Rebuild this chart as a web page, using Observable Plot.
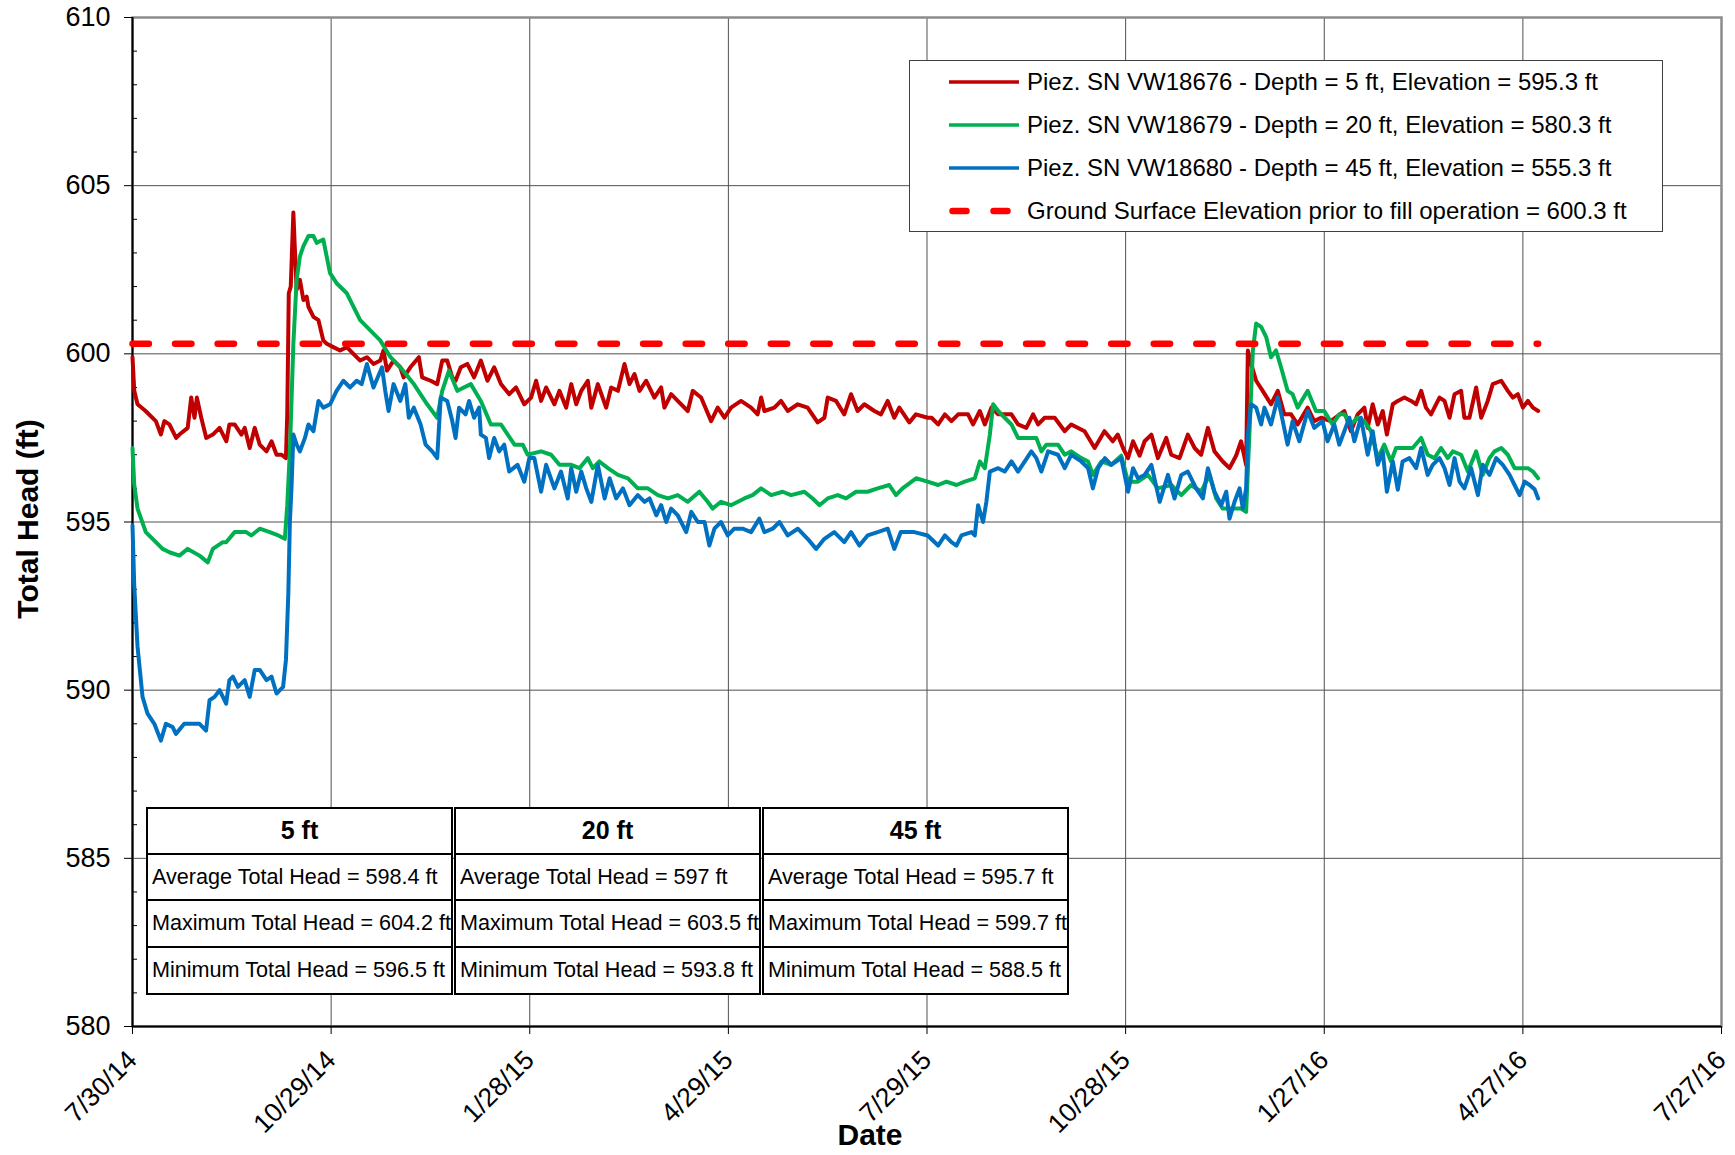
<!DOCTYPE html>
<html>
<head>
<meta charset="utf-8">
<script src="https://cdn.jsdelivr.net/npm/d3@7"></script>
<script src="https://cdn.jsdelivr.net/npm/@observablehq/plot@0.6"></script>
<style>
html,body{margin:0;padding:0;background:#fff;}
#wrap{position:relative;width:1735px;height:1155px;font-family:"Liberation Sans",Arial,sans-serif;color:#000;}
#chart{position:absolute;left:0;top:0;}
.legend{position:absolute;left:909px;top:60px;width:754px;height:172px;box-sizing:border-box;border:1px solid #404040;background:#fff;}
.lrow{position:absolute;left:0;height:30px;width:100%;font-size:24px;line-height:30px;white-space:nowrap;}
.lrow svg{position:absolute;left:39px;top:10px;}
.lrow span{position:absolute;left:117px;top:0;}
.tbox{position:absolute;top:807px;width:307px;height:188px;box-sizing:border-box;border:2.5px solid #000;background:#fff;}
.tbox div{box-sizing:border-box;white-space:nowrap;overflow:visible;}
.thead{height:45.5px;border-bottom:2.5px solid #000;font-weight:bold;font-size:25px;text-align:center;line-height:43px;}
.trow{height:46.5px;border-bottom:2.5px solid #000;font-size:21.6px;line-height:44px;padding-left:4px;}
.trow.last{border-bottom:none;height:44px;}
</style>
</head>
<body>
<div id="wrap"></div>
<script>
// ---- data ----
const startDate = "2014-07-30";           // day 0 of the day offsets below
const xTickDates = ["2014-07-30","2014-10-29","2015-01-28","2015-04-29","2015-07-29","2015-10-28","2016-01-27","2016-04-27","2016-07-27"];
const yMajorTicks = [580,585,590,595,600,605,610];
const yMinorTicks = [581,582,583,584,586,587,588,589,591,592,593,594,596,597,598,599,601,602,603,604,606,607,608,609];

const seriesNames = [
  "Piez. SN VW18676 - Depth = 5 ft, Elevation = 595.3 ft",
  "Piez. SN VW18679 - Depth = 20 ft, Elevation = 580.3 ft",
  "Piez. SN VW18680 - Depth = 45 ft, Elevation = 555.3 ft",
  "Ground Surface Elevation prior to fill operation = 600.3 ft"
];

// 5 ft piezometer (red)
const redDays = [0,0.8,2.3,6,10.7,13,14.6,16.9,20,21.5,25.3,26.9,28.4,29.5,31.5,33.8,36.8,39.9,43,44.4,46.8,49.9,51.4,53.7,56,58.3,61.4,63.7,66,68.3,70.3,70.9,71.6,72.5,73.7,74.4,75.2,76.7,78.3,79.8,80.6,82.9,85.2,87.4,89,92,95.1,98.2,101.2,104.3,107.4,110.4,113.5,115,116.6,119.6,122.7,124.2,127.3,131.2,132.7,136.6,139.6,141.9,144.2,146.5,148,150.4,153.4,156.5,159.6,162.6,165.7,168.8,172.6,175.7,179.5,182.6,184.9,187.2,189.5,193.3,195.6,198.7,201,203.3,205.6,208.6,210.2,213.2,217,219.3,222.4,225.4,227.7,230,232.3,235.3,239.1,242.2,243.7,246.8,249.8,254.4,256.7,260.5,265.1,268.1,271.2,274.2,278.8,283.4,286.4,288,289.5,294.1,297.1,300.2,304.8,309.3,313.9,317,318.5,322.3,326.1,329.2,332.2,335.3,339.9,342.9,346,349,351.3,355.9,358.9,364.3,366.1,369.1,372.2,375.2,378.3,382.8,385.1,388.2,390.5,393.5,396.6,402.7,405.7,409.5,412.6,414.9,417.9,422.5,427.1,430.1,436.2,440.8,445.3,449.1,451.4,453.8,456.1,458.4,461.4,463.7,466.8,469.8,473.6,475.9,479.7,483.5,486.6,489.6,492.7,495.7,499.5,502.6,505.6,507.9,510.2,511,512.5,514.8,517.8,521.6,524.7,527.7,530.8,533.8,538.4,541.4,544.5,549,555.2,558.2,561.3,564.4,565.9,568.2,570.5,572.8,574.7,577.4,579.7,582.7,585.8,588.1,590.4,592.6,594.9,598.8,601.1,603.4,605.7,608.7,610.2,612.5,615.6,617.9,620.9,623.2,627.1,630.1,632.4,634.7,637,639.3,641.6,644];
const redHead = [599.9,598.9,598.5,598.3,598.0,597.6,598.0,597.9,597.5,597.6,597.8,598.7,598.1,598.7,598.1,597.5,597.6,597.8,597.4,597.9,597.9,597.6,597.8,597.2,597.8,597.3,597.1,597.4,597.0,597.0,596.9,598.2,601.8,602.0,604.2,603.1,601.9,602.2,601.6,601.7,601.4,601.1,601.0,600.4,600.3,600.2,600.1,600.2,600.0,599.8,599.9,599.7,599.8,600.1,599.5,599.8,599.6,599.3,599.6,599.9,599.3,599.2,599.1,599.8,599.8,599.3,599.2,599.6,599.7,599.3,599.8,599.2,599.6,599.1,598.8,599.0,598.5,598.7,599.2,598.6,599.0,598.5,598.9,598.4,599.1,598.5,598.9,599.2,598.4,599.1,598.4,599.0,598.9,599.7,599.1,599.4,598.9,599.2,598.7,599.0,598.4,598.8,598.6,598.3,598.9,598.7,598.0,598.4,598.1,598.4,598.6,598.4,598.2,598.7,598.3,598.4,598.6,598.3,598.5,598.4,597.96,598.1,598.7,598.6,598.2,598.8,598.3,598.5,598.3,598.2,598.6,598.1,598.4,597.96,598.2,598.1,598.1,597.9,598.2,598.0,598.2,598.2,597.9,598.3,597.9,598.4,598.2,598.2,597.9,597.8,598.2,597.9,598.1,598.1,597.7,597.9,597.7,597.2,597.7,597.4,597.6,597.2,596.9,597.4,596.97,597.4,597.6,596.9,597.5,597.0,596.9,597.6,597.2,597.0,597.8,597.1,596.8,596.6,596.97,597.4,596.7,600.1,599.7,599.2,598.9,598.5,598.9,598.2,598.2,597.9,598.4,598.0,598.1,598.0,598.3,597.7,598.2,598.4,597.8,598.5,597.9,598.3,597.6,598.5,598.6,598.7,598.6,598.5,598.9,598.4,598.2,598.7,598.6,598.1,598.8,598.9,598.1,598.1,599.0,598.1,598.6,599.1,599.2,598.9,598.7,598.8,598.4,598.6,598.4,598.3];

// 20 ft piezometer (green)
const greenDays = [0,0.8,2.3,6.1,10.7,13.8,16.9,21.5,25.3,30.7,34.5,36.8,41.4,42.9,46.8,52.1,54.4,58.3,62.9,66.8,69.8,70.9,72.1,73.7,75.2,76.7,78.3,80.6,82.9,84.4,87.4,90.5,93.5,98.2,104.3,110.4,113.5,118.2,122.7,128.9,135,139.6,141.9,145,148.8,155,159.6,164.2,168.8,175,178.8,181,187.2,191.8,195.6,201,204.8,208.6,210.9,213.9,217.8,222.4,227,231.5,236.1,240.7,245.3,249.8,254.4,259.7,263.5,265.8,269.6,274.2,280.3,284.1,288,292.6,297.9,301.7,307.8,311.6,314.7,318.5,323.1,326.9,331.5,336.8,341.4,346.7,349.8,352.8,359,364.3,369.1,372.9,377.5,381.3,385.9,388.2,390.5,392.8,394.3,396.6,399.6,402.7,405.7,410.3,414.1,416.4,418.7,424,427.1,430.1,434.7,437.8,440,443.9,448.4,453,456.1,460.7,465.2,469.8,475.9,480.5,485,489.6,493.4,496.5,499.5,503.3,507.9,510.2,511.7,513.3,514.8,517.1,519.4,521.6,523.9,526.2,529.2,531.5,533.8,538.4,542.2,546,549.8,552.9,555.2,558.2,561.3,564.4,567.4,570.5,573.5,576.6,578.9,582.7,586.5,590.4,593.4,596.5,599.5,602.6,604.9,608.7,611.8,615.6,618.6,621.7,624,627.1,630.1,633.2,636.2,639.3,641.6,644];
const greenHead = [597.2,596.1,595.4,594.7,594.4,594.2,594.1,594.0,594.2,594.0,593.8,594.2,594.4,594.4,594.7,594.7,594.6,594.8,594.7,594.6,594.5,595.5,597.1,600.3,602.2,602.9,603.2,603.5,603.5,603.3,603.4,602.4,602.1,601.8,601.0,600.6,600.4,599.9,599.6,599.1,598.5,598.1,598.9,599.5,598.9,599.1,598.6,597.9,597.9,597.3,597.3,597.0,597.1,597.0,596.7,596.7,596.6,596.9,596.6,596.8,596.6,596.4,596.3,596.0,596.0,595.8,595.7,595.8,595.6,595.9,595.6,595.4,595.6,595.5,595.7,595.8,596.0,595.8,595.9,595.8,595.9,595.7,595.5,595.7,595.8,595.7,595.9,595.9,596.0,596.1,595.8,596.0,596.3,596.2,596.1,596.2,596.1,596.2,596.3,596.8,596.6,597.6,598.5,598.3,598.1,597.9,597.5,597.5,597.5,597.1,597.3,597.3,597.0,597.1,596.9,596.8,596.4,596.8,596.7,596.97,596.2,596.2,596.4,596.0,596.1,595.8,596.1,595.9,596.4,595.7,595.4,595.4,595.4,595.3,597.6,600.1,600.9,600.8,600.5,599.9,600.1,599.6,598.9,598.8,598.4,598.9,598.3,598.3,597.9,598.2,598.2,597.9,598.1,598.0,597.7,596.9,597.3,596.8,597.2,597.2,597.2,597.5,597.0,596.9,597.2,596.9,597.1,597.0,596.5,597.1,596.4,596.9,597.1,597.2,597.0,596.6,596.6,596.6,596.5,596.3];

// 45 ft piezometer (blue)
const blueDays = [0,0.8,2.3,4.6,6.9,10,13,15.3,18.4,19.9,23.7,27.5,30.7,33.7,35.3,37.6,39.9,42.9,44.4,46,48.3,51.4,53.7,56,58.3,61.4,63.7,66,69,70.3,71.4,72.1,72.9,73.7,75.2,76.7,79,80.6,82.9,85.2,87.4,90.5,93.5,96.6,99.7,102.7,105,107.4,110.4,114.3,115.8,117.3,119.6,122.7,125,126.6,128.9,132,134.3,137.3,139.6,141.2,144.2,146.5,148,149.6,152.6,154.2,156.5,158.8,159.6,161.9,163.4,165.7,168,170.3,172.6,176.4,179.5,181.8,184.1,187.2,189.5,193.3,196.3,199.4,201,203.3,205.6,207.9,210.2,213.2,216.3,218.6,221.6,224.7,227.7,231.5,234.6,236.9,240,242.2,244.5,246.8,249.8,253.7,256,259,262.1,264.3,266.6,269.6,272.7,275.7,279.5,283.4,287.2,289.5,293.3,296.4,300.2,304.8,309.3,313.2,317,321.5,326.1,329.2,333,336.8,341.4,346,349,352,358.2,364.3,369.1,372.2,375.2,377.5,379.8,384.4,385.9,387.4,389.7,391.2,392.8,396.6,399.6,402.7,405.7,408.8,411.8,414.1,416.4,419.5,424,427.1,430.1,434.7,437.8,440,442.4,445.5,448.4,453,456.1,458.4,460.7,463.7,466.8,470.6,474.4,477.4,480.5,483.5,487.3,490.4,492.7,495.7,498.8,501.1,502.6,504.9,507.2,508.7,510.2,511,512.5,514.8,517.1,518.6,521.6,524.7,527,529.2,531.5,534.6,538.4,541.4,545.2,547.5,550.6,552.9,557.5,559.8,562.8,565.9,568.2,570.5,572.8,574.7,577.4,579.7,581.9,585,588.1,590.4,593.4,595.7,598.8,601.1,603.4,605.7,608,610.2,613.3,616.4,618.6,621.7,624.8,627.8,630.9,633.2,635.5,637.8,640.1,642.4,644];
const blueHead = [594.9,593.1,591.3,589.8,589.3,589.0,588.5,589.0,588.9,588.7,589.0,589.0,589.0,588.8,589.7,589.8,590.0,589.6,590.3,590.4,590.1,590.3,589.8,590.6,590.6,590.3,590.4,589.9,590.1,590.9,592.9,595.0,596.1,597.6,597.3,597.1,597.5,597.9,597.7,598.6,598.4,598.5,598.9,599.2,599.0,599.2,599.1,599.7,599.0,599.6,598.9,598.3,599.1,598.6,599.1,598.1,598.4,597.9,597.3,597.1,596.9,598.7,598.6,598.0,597.5,598.4,598.2,598.6,598.1,598.4,597.6,597.5,596.9,597.5,597.1,597.3,596.5,596.7,596.2,596.9,596.9,595.9,596.7,596.0,596.5,595.7,596.6,595.9,596.5,596.0,595.6,596.7,595.7,596.3,595.7,596.0,595.5,595.8,595.6,595.7,595.2,595.5,595.0,595.4,595.2,594.7,595.3,595.0,595.0,594.3,594.8,595.0,594.6,594.8,594.8,594.7,595.1,594.7,594.8,595.0,594.6,594.8,594.5,594.2,594.5,594.7,594.4,594.7,594.3,594.6,594.7,594.8,594.2,594.7,594.7,594.6,594.3,594.6,594.4,594.3,594.6,594.7,594.6,595.5,595.0,595.6,596.5,596.6,596.5,596.8,596.5,596.8,597.1,596.9,596.5,597.1,597.0,596.6,597.0,596.8,596.6,596.0,596.6,596.9,596.7,596.9,595.9,596.6,596.3,596.4,596.7,595.6,596.4,595.7,596.4,596.5,596.0,595.7,596.6,595.9,595.5,595.9,595.1,595.6,596.0,595.4,596.0,597.6,598.5,598.4,597.9,598.4,597.9,598.7,598.0,597.3,598.0,597.4,598.3,597.8,598.0,597.4,597.9,597.3,598.1,597.4,598.1,597.0,597.7,596.7,597.1,595.9,596.8,595.96,596.8,596.9,596.6,597.2,596.4,596.7,596.9,596.6,596.1,596.9,596.2,596.0,596.6,595.8,596.7,596.4,596.9,596.7,596.4,596.1,595.8,596.2,596.1,595.97,595.7];

// ground surface elevation reference line
const groundDays = [0, 644];
const groundHead = [600.3, 600.3];

// summary table
const tableHeaders = ["5 ft", "20 ft", "45 ft"];
const avgHead = [598.4, 597, 595.7];
const maxHead = [604.2, 603.5, 599.7];
const minHead = [596.5, 593.8, 588.5];

// ---- build ----
const t0 = new Date(startDate + "T00:00:00Z").getTime();
const toRows = (days, vals) => days.map((d, i) => ({date: new Date(t0 + d * 864e5), value: vals[i]}));
const xTicks = xTickDates.map(s => new Date(s + "T00:00:00Z"));
const fmt = d3.utcFormat("%-m/%-d/%y");
const colors = ["#C00000", "#00B050", "#0070C0", "#FF0000"];
const font = "'Liberation Sans', Arial, sans-serif";

const chart = Plot.plot({
  width: 1735, height: 1155,
  marginLeft: 132, marginRight: 14, marginTop: 17, marginBottom: 129,
  style: {fontFamily: font, fontSize: "26px", color: "#000", background: "#fff", overflow: "visible"},
  x: {type: "utc", domain: [xTicks[0], xTicks[xTicks.length - 1]]},
  y: {domain: [yMajorTicks[0], yMajorTicks[yMajorTicks.length - 1]]},
  marks: [
    Plot.gridX(xTicks, {stroke: "#505050", strokeOpacity: 1, strokeWidth: 1}),
    Plot.gridY(yMajorTicks, {stroke: "#505050", strokeOpacity: 1, strokeWidth: 1}),
    Plot.frame({stroke: "#8c8c8c", strokeWidth: 2.5}),
    Plot.ruleX([xTicks[0]], {stroke: "#000", strokeWidth: 2}),
    Plot.ruleY([yMajorTicks[0]], {stroke: "#000", strokeWidth: 2}),
    Plot.axisX(xTicks, {tickSize: 8, tickPadding: 21, tickRotate: -45, tickFormat: fmt, fontSize: 26.5, label: null}),
    Plot.axisY(yMajorTicks, {tickSize: 8, tickPadding: 14, fontSize: 27, label: null}),
    Plot.axisY(yMinorTicks, {tickSize: 5, dx: 5, tickFormat: () => "", label: null}),
    Plot.line(toRows(redDays, redHead), {x: "date", y: "value", stroke: colors[0], strokeWidth: 4, strokeLinejoin: "round"}),
    Plot.line(toRows(greenDays, greenHead), {x: "date", y: "value", stroke: colors[1], strokeWidth: 4, strokeLinejoin: "round"}),
    Plot.line(toRows(blueDays, blueHead), {x: "date", y: "value", stroke: colors[2], strokeWidth: 4, strokeLinejoin: "round"}),
    Plot.line(toRows(groundDays, groundHead), {x: "date", y: "value", stroke: colors[3], strokeWidth: 6.5, strokeDasharray: "16.4,26.15", strokeLinecap: "round"}),
    Plot.text(["Total Head (ft)"], {text: d => d, frameAnchor: "left", textAnchor: "middle", lineAnchor: "middle", dx: -104, dy: -3, rotate: -90, fontSize: 30, fontWeight: "bold", fill: "#000"}),
    Plot.text(["Date"], {text: d => d, frameAnchor: "bottom", textAnchor: "middle", lineAnchor: "middle", dx: -57, dy: 109, fontSize: 30, fontWeight: "bold", fill: "#000"})
  ]
});
chart.id = "chart";
const wrap = document.getElementById("wrap");
wrap.appendChild(chart);

// legend
const legend = document.createElement("div");
legend.className = "legend";
const rowCenters = [20.5, 63.5, 106.5, 150];
seriesNames.forEach((name, i) => {
  const row = document.createElement("div");
  row.className = "lrow";
  row.style.top = (rowCenters[i] - 15) + "px";
  const sample = i < 3
    ? `<svg width="70" height="10"><line x1="0" y1="5" x2="70" y2="5" stroke="${colors[i]}" stroke-width="3.5"/></svg>`
    : `<svg width="70" height="10"><line x1="3.5" y1="5" x2="70" y2="5" stroke="${colors[i]}" stroke-width="6.5" stroke-linecap="round" stroke-dasharray="14,27"/></svg>`;
  row.innerHTML = sample + `<span>${name}</span>`;
  legend.appendChild(row);
});
wrap.appendChild(legend);

// summary table
const lefts = [146, 454, 762];
tableHeaders.forEach((h, i) => {
  const box = document.createElement("div");
  box.className = "tbox";
  box.style.left = lefts[i] + "px";
  box.innerHTML =
    `<div class="thead">${h}</div>` +
    `<div class="trow">Average Total Head = ${avgHead[i]} ft</div>` +
    `<div class="trow">Maximum Total Head = ${maxHead[i]} ft</div>` +
    `<div class="trow last">Minimum Total Head = ${minHead[i]} ft</div>`;
  wrap.appendChild(box);
});
</script>
</body>
</html>
